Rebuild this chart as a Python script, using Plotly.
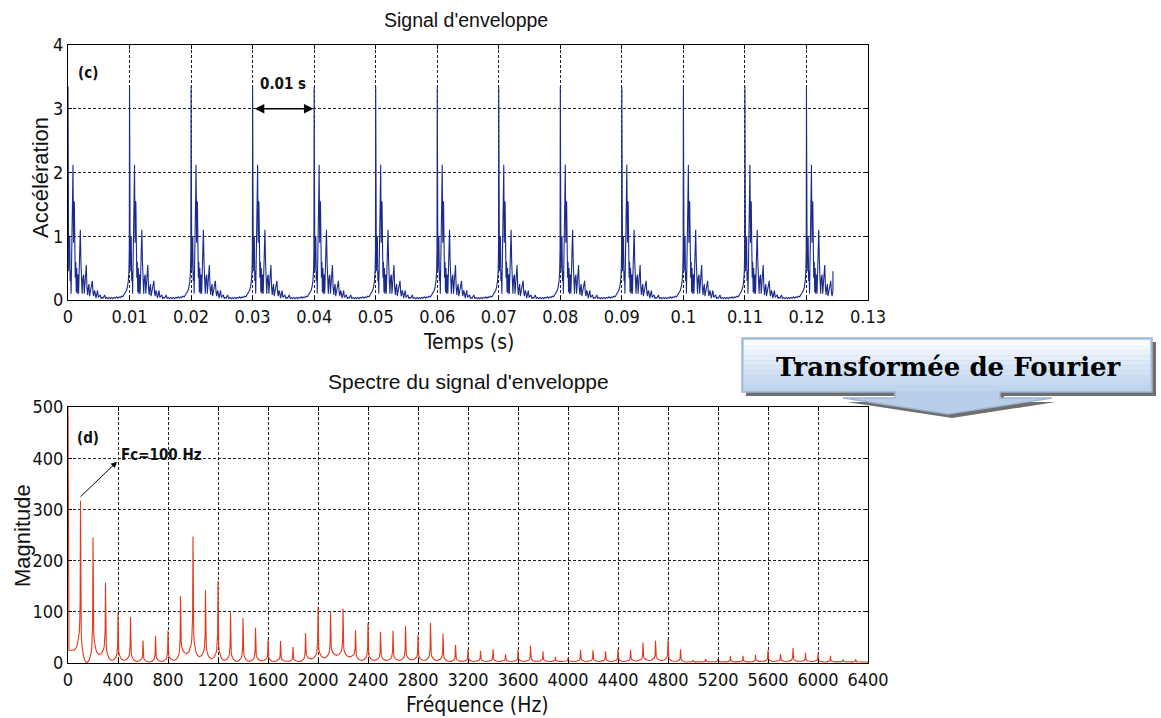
import numpy as np
import plotly.graph_objects as go

W, H = 1161, 718

# ---------------- envelope signal (one impact period, ms offsets -> acceleration) ----------------
period_ms = [0.00, 0.06, 0.11, 0.19, 0.27, 0.35, 0.43, 0.50, 0.62, 0.74, 0.81, 0.90, 0.97, 1.03,
             1.10, 1.18, 1.26, 1.34, 1.42, 1.50, 1.62, 1.72, 1.85, 2.00, 2.10, 2.20, 2.30, 2.42,
             2.54, 2.64, 2.80, 2.97, 3.08, 3.19, 3.30, 3.40, 3.50, 3.62, 3.80, 3.95, 4.06, 4.16,
             4.30, 4.40, 4.54, 4.66, 4.80, 4.92, 5.04, 5.24, 5.38, 5.50, 5.70, 5.95, 6.10, 6.30,
             6.50, 6.70, 6.90, 7.10, 7.30, 7.50, 7.70, 7.90, 8.10, 8.30, 8.50, 8.70, 8.90, 9.10,
             9.30, 9.50, 9.65, 9.80, 9.90, 9.96]
period_acc = [3.35, 1.20, 0.45, 0.90, 1.00, 0.30, 0.45, 0.10, 0.60, 1.60, 2.12, 0.90, 1.55, 1.52,
              1.00, 0.35, 0.60, 0.12, 0.50, 0.10, 0.40, 0.10, 0.60, 1.10, 0.60, 0.40, 0.10, 0.35,
              0.40, 0.10, 0.30, 0.55, 0.20, 0.08, 0.20, 0.25, 0.06, 0.12, 0.20, 0.30, 0.12, 0.06,
              0.15, 0.12, 0.03, 0.08, 0.15, 0.04, 0.06, 0.08, 0.02, 0.04, 0.03, 0.08, 0.02, 0.04,
              0.02, 0.04, 0.02, 0.04, 0.02, 0.04, 0.03, 0.05, 0.03, 0.05, 0.04, 0.06, 0.05, 0.08,
              0.10, 0.15, 0.20, 0.30, 0.45, 0.80]
impact_period_s = 0.01
record_end_s = 0.1243
last_value = 0.45

t_list, a_list = [], []
k = 0
while k * impact_period_s < record_end_s:
    for ms, a in zip(period_ms, period_acc):
        t = k * impact_period_s + ms / 1000.0
        if t <= record_end_s:
            t_list.append(t)
            a_list.append(a)
    k += 1
t_list.append(record_end_s)
a_list.append(last_value)

time_ticks = [0, 0.01, 0.02, 0.03, 0.04, 0.05, 0.06, 0.07, 0.08, 0.09, 0.1, 0.11, 0.12, 0.13]
time_tick_text = ["0", "0.01", "0.02", "0.03", "0.04", "0.05", "0.06", "0.07", "0.08", "0.09",
                  "0.1", "0.11", "0.12", "0.13"]
acc_ticks = [0, 1, 2, 3, 4]

# ---------------- envelope spectrum: harmonics of Fc = 100 Hz ----------------
fc_hz = 100
harmonic_peaks = [317, 245, 157, 98, 90, 44, 53, 63, 131, 247,
                  142, 160, 99, 88, 69, 46, 43, 31, 58, 110,
                  101, 106, 64, 78, 61, 63, 72, 54, 78, 57,
                  35, 27, 24, 27, 17, 25, 34, 23, 12, 10,
                  26, 25, 23, 27, 26, 40, 44, 47, 27, 5,
                  8, 8, 14, 14, 16, 25, 18, 29, 20, 18,
                  14, 7, 7]
# level of the floor on each side of every harmonic (first = below 100 Hz, last = above 6300 Hz)
floor_levels = [25, 0, 16, 5, 5, 3, 2, 3, 5, 18,
                12, 8, 5, 3, 3, 4, 3, 3, 3, 8,
                10, 15, 12, 5, 5, 5, 5, 6, 5, 5,
                3, 3, 3, 3, 3, 3, 3, 3, 3, 3,
                3, 3, 3, 3, 3, 4, 5, 5, 3, 2,
                2, 2, 2, 2, 2, 3, 3, 3, 3, 3,
                2, 2, 2, 2]
dc_freqs = [0, 8]
dc_mags = [520, 25]
# peak skirt shape: offset from the harmonic (Hz) and share of peak height above the floor
skirt_offsets = [0, 3, 6, 10, 15, 22, 32, 50]
skirt_share = [1.0, 0.32, 0.19, 0.12, 0.08, 0.05, 0.02, 0.0]

f_list = list(dc_freqs)
m_list = list(dc_mags)
for i, peak in enumerate(harmonic_peaks):
    f0 = fc_hz * (i + 1)
    left, right = floor_levels[i], floor_levels[i + 1]
    for off, s in zip(skirt_offsets[::-1], skirt_share[::-1]):
        f = f0 - off
        if f > f_list[-1]:
            f_list.append(f)
            m_list.append(left + (peak - left) * s)
    for off, s in zip(skirt_offsets[1:], skirt_share[1:]):
        f_list.append(f0 + off)
        m_list.append(right + (peak - right) * s)
f_list.append(6400)
m_list.append(floor_levels[-1])

freq_ticks = list(range(0, 6401, 400))
mag_ticks = [0, 100, 200, 300, 400, 500]

# ---------------- figure ----------------
def px(x):
    return x / W


def py(y):
    return 1 - y / H


NARROW = "Liberation Sans Narrow, Arial Narrow, DejaVu Sans Condensed, sans-serif"
TICK_FONT = dict(family=NARROW, size=18, color="#111")
NARROW_LABEL = dict(family=NARROW, size=21, color="#111")


def sans(size):
    return dict(family="Liberation Sans, Arial, sans-serif", size=size, color="#111")


fig = go.Figure()
fig.add_trace(go.Scatter(x=t_list, y=a_list, mode="lines", xaxis="x", yaxis="y",
                         line=dict(color="#1b2b8c", width=1.1), showlegend=False))
fig.add_trace(go.Scatter(x=f_list, y=m_list, mode="lines", xaxis="x2", yaxis="y2",
                         line=dict(color="#e2381b", width=1.1), showlegend=False))

axis_common = dict(showline=True, linecolor="black", linewidth=1, mirror="ticks",
                   ticks="inside", ticklen=4, tickcolor="black", showgrid=True,
                   gridcolor="#222", gridwidth=1, griddash="3px,2px", zeroline=False,
                   tickfont=TICK_FONT, automargin=False)

fig.update_layout(
    width=W, height=H, margin=dict(l=0, r=0, t=0, b=0, autoexpand=False),
    autosize=False,
    paper_bgcolor="white", plot_bgcolor="white",
    xaxis=dict(domain=[px(68), px(868)], range=[0, 0.13], tickvals=time_ticks,
               ticktext=time_tick_text, anchor="y", **axis_common),
    yaxis=dict(domain=[py(300), py(45)], range=[0, 4], tickvals=acc_ticks, anchor="x",
               **axis_common),
    xaxis2=dict(domain=[px(68), px(868)], range=[0, 6400], tickvals=freq_ticks, anchor="y2",
                **axis_common),
    yaxis2=dict(domain=[py(663), py(407)], range=[0, 500], tickvals=mag_ticks, anchor="x2",
                **axis_common),
)


def label(text, x, y, font, angle=0):
    return dict(text=text, x=px(x), y=py(y), xref="paper", yref="paper", showarrow=False,
                xanchor="center", yanchor="middle", textangle=angle, font=font)


ann = [
    label("Signal d'enveloppe", 466, 20, sans(19.5)),
    label("Temps (s)", 468, 342, NARROW_LABEL),
    label("Accélération", 40, 178, sans(22), -90),
    label("Spectre du signal d'enveloppe", 468, 381, sans(21)),
    label("Fréquence (Hz)", 477, 705, NARROW_LABEL),
    label("Magnitude", 22, 536, sans(22), -90),
]

BOLD = dict(family=NARROW, size=15, color="#111", weight="bold")
ann.append(label("(c)", 88, 73, BOLD))
ann.append(label("0.01 s", 283, 84, BOLD))
ann.append(dict(text="", x=0.0399, y=3, ax=0.0301, ay=3, xref="x", yref="y", axref="x",
                ayref="y", showarrow=True, arrowhead=2, startarrowhead=2,
                arrowside="end+start", arrowsize=1.2, startarrowsize=1.2, arrowwidth=1.6,
                arrowcolor="black"))
ann.append(label("(d)", 88, 438, BOLD))
ann.append(label("Fc=100 Hz", 161, 455, BOLD))
ann.append(dict(text="", x=392, y=393, ax=88, ay=322, xref="x2", yref="y2", axref="x2",
                ayref="y2", showarrow=True, arrowhead=2, arrowsize=1.2, arrowwidth=1,
                arrowcolor="black"))

# ---------------- "Transformée de Fourier" callout ----------------
def path_from(points, dx=0, dy=0):
    s = "M " + " L ".join(f"{px(x + dx):.5f},{py(y + dy):.5f}" for x, y in points)
    return s + " Z"


callout = [(742, 338), (1152, 338), (1152, 392), (1000, 392), (1000, 398), (1052, 398),
           (948, 414), (843, 398), (895, 398), (895, 392), (742, 392)]
shapes = []
shapes.append(dict(type="path", path=path_from(callout, 4, 4), xref="paper", yref="paper",
                   fillcolor="#6f6f6f", line=dict(width=0)))
shapes.append(dict(type="path", path=path_from(callout), xref="paper", yref="paper",
                   fillcolor="#b9cfe9", line=dict(color="#9fb5d2", width=1.5)))
top_rgb = np.array([250, 252, 255])
bot_rgb = np.array([190, 211, 236])
n_bands = 10
y0, y1 = 340, 391
for i in range(n_bands):
    c = top_rgb + (bot_rgb - top_rgb) * i / (n_bands - 1)
    ya = y0 + (y1 - y0) * i / n_bands
    yb = y0 + (y1 - y0) * (i + 1) / n_bands
    shapes.append(dict(type="rect", xref="paper", yref="paper", x0=px(744), x1=px(1150),
                       y0=py(yb), y1=py(ya), fillcolor=f"rgb({int(c[0])},{int(c[1])},{int(c[2])})",
                       line=dict(width=0)))
fig.update_layout(shapes=shapes)

ann.append(label("Transformée de Fourier", 948, 367,
                 dict(family="DejaVu Serif, Liberation Serif, serif", size=26, color="black",
                      weight="bold")))
fig.update_layout(annotations=ann)

fig.write_html("out.html", config={"responsive": False},
               post_script="document.body.style.margin='0';"
                           "document.documentElement.style.overflow='hidden';")
